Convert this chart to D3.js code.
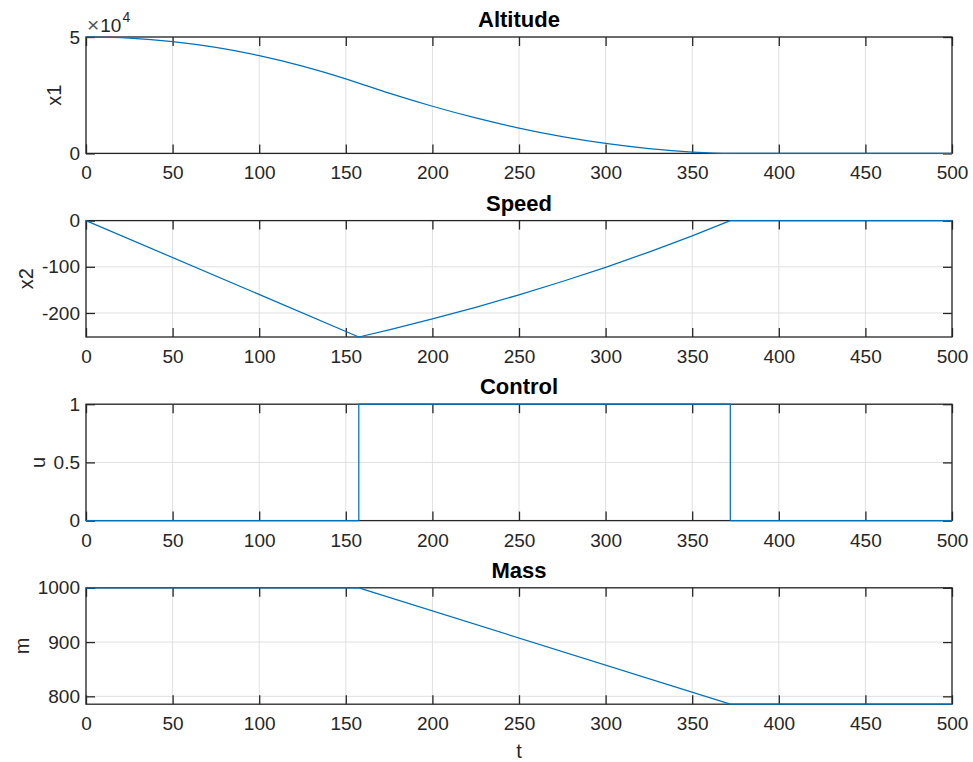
<!DOCTYPE html>
<html>
<head>
<meta charset="utf-8">
<script src="https://cdn.jsdelivr.net/npm/d3@7/dist/d3.min.js"></script>
<style>
  html, body { margin: 0; padding: 0; background: #fff; }
  svg { display: block; }
  text { font-family: "Liberation Sans", Arial, Helvetica, sans-serif; fill: #262626; }
</style>
</head>
<body>
<svg id="chart" width="973" height="762"></svg>
<script>
// ---------- data ----------
const xTicks = [0, 50, 100, 150, 200, 250, 300, 350, 400, 450, 500];

const tAltitude = [0, 25, 50, 75, 100, 125, 150, 157.5, 175, 200, 225, 250, 275, 300, 325, 350, 372, 400, 450, 500];
const altitude  = [50000, 49500, 48000, 45500, 42000, 37500, 32000, 30155, 25880, 20260, 15250, 10890, 7220, 4300, 2100, 600, 0, 0, 0, 0];
const altitudeTicks = [0, 50000];

const tSpeed = [0, 157.5, 175, 200, 225, 250, 275, 300, 325, 350, 372, 400, 450, 500];
const speed  = [0, -252, -236.5, -212.9, -187.7, -160.7, -131.9, -101.1, -68.1, -33, 0, 0, 0, 0];
const speedTicks = [-200, -100, 0];

const tControl = [0, 157.5, 157.5, 372, 372, 500];
const control  = [0, 0, 1, 1, 0, 0];
const controlTicks = [0, 0.5, 1];

const tMass = [0, 157.5, 372, 500];
const mass  = [1000, 1000, 785.5, 785.5];
const massTicks = [800, 900, 1000];

const panels = [
  { title: "Altitude", ylabel: "x1", t: tAltitude, v: altitude, domain: [0, 50000], ticks: altitudeTicks, fmt: d => String(d / 1e4), curve: d3.curveMonotoneX, exponent: "4" },
  { title: "Speed",    ylabel: "x2", t: tSpeed,    v: speed,    domain: [-252, 0],   ticks: speedTicks,    fmt: d => d === 0 ? "0" : "-" + Math.abs(d), curve: d3.curveLinear },
  { title: "Control",  ylabel: "u",  t: tControl,  v: control,  domain: [0, 1],      ticks: controlTicks,  fmt: d => String(d), curve: d3.curveLinear },
  { title: "Mass",     ylabel: "m",  t: tMass,     v: mass,     domain: [785.5, 1000], ticks: massTicks,   fmt: d => String(d), curve: d3.curveLinear, xlabel: "t" }
];

// ---------- layout ----------
const svg = d3.select("#chart");
const left = 86, right = 952;
const firstTop = 37, step = 183.6, plotH = 116.4;
const axisColor = "#262626", gridColor = "#e0e0e0", lineColor = "#0072BD";
const fontSize = 19, labelSize = 20, titleSize = 22, tickLen = 9;

const x = d3.scaleLinear().domain([0, 500]).range([left, right]);

panels.forEach((p, i) => {
  const top = firstTop + i * step;
  const bottom = top + plotH;
  const y = d3.scaleLinear().domain(p.domain).range([bottom, top]);
  const g = svg.append("g");

  // grid
  g.append("g").selectAll("line.gx").data(xTicks).join("line")
    .attr("x1", d => x(d)).attr("x2", d => x(d))
    .attr("y1", top).attr("y2", bottom)
    .attr("stroke", gridColor).attr("stroke-width", 1);
  g.append("g").selectAll("line.gy").data(p.ticks).join("line")
    .attr("x1", left).attr("x2", right)
    .attr("y1", d => y(d)).attr("y2", d => y(d))
    .attr("stroke", gridColor).attr("stroke-width", 1);

  // axes
  const styleAxis = sel => {
    sel.select(".domain").remove();
    sel.selectAll(".tick line").attr("stroke", axisColor).attr("stroke-width", 1.3);
    sel.selectAll(".tick text").attr("fill", axisColor).style("font-size", fontSize + "px")
      .style("font-family", '"Liberation Sans", Arial, Helvetica, sans-serif');
  };
  g.append("g").attr("transform", `translate(0,${bottom})`)
    .call(d3.axisBottom(x).tickValues(xTicks).tickSize(-tickLen).tickPadding(12.5).tickFormat(d3.format("d")))
    .call(styleAxis);
  g.append("g").attr("transform", `translate(0,${top})`)
    .call(d3.axisTop(x).tickValues(xTicks).tickSize(-tickLen).tickFormat(""))
    .call(styleAxis);
  const yAxisG = g.append("g").attr("transform", `translate(${left},0)`)
    .call(d3.axisLeft(y).tickValues(p.ticks).tickSize(-tickLen).tickPadding(6).tickFormat(p.fmt))
    .call(styleAxis);
  g.append("g").attr("transform", `translate(${right},0)`)
    .call(d3.axisRight(y).tickValues(p.ticks).tickSize(-tickLen).tickFormat(""))
    .call(styleAxis);

  // box
  g.append("rect").attr("x", left).attr("y", top)
    .attr("width", right - left).attr("height", plotH)
    .attr("fill", "none").attr("stroke", axisColor).attr("stroke-width", 1.3);

  // data line
  const pts = p.t.map((t, k) => [t, p.v[k]]);
  g.append("path").datum(pts)
    .attr("fill", "none").attr("stroke", lineColor).attr("stroke-width", 1.25)
    .attr("stroke-linejoin", "round")
    .attr("d", d3.line().x(d => x(d[0])).y(d => y(d[1])).curve(p.curve));

  // title
  svg.append("text").attr("x", (left + right) / 2).attr("y", top - 10)
    .attr("text-anchor", "middle").style("font-size", titleSize + "px").style("font-weight", "bold")
    .style("fill", "#000").text(p.title);

  // y label (placed left of the tick labels)
  let tickLeft = left;
  yAxisG.selectAll(".tick text").each(function () {
    const b = this.getBBox();
    const m = this.getCTM();
    const lx = b.x + (m ? m.e : 0);
    if (lx < tickLeft) tickLeft = lx;
  });
  const labX = tickLeft - 8.5;
  const labY = (top + bottom) / 2;
  svg.append("text").attr("transform", `translate(${labX},${labY}) rotate(-90)`)
    .attr("text-anchor", "middle").style("font-size", labelSize + "px").text(p.ylabel);

  // exponent
  if (p.exponent) {
    const ex = svg.append("text").attr("x", 87).attr("y", 31.5).style("font-size", fontSize + "px");
    ex.append("tspan").style("font-size", "21px").style("fill", "#555").text("\u00d7");
    ex.append("tspan").attr("dx", 1).text("10");
    ex.append("tspan").attr("dy", -10).attr("dx", 1).style("font-size", "14px").text(p.exponent);
  }

  // x label
  if (p.xlabel) {
    svg.append("text").attr("x", (left + right) / 2).attr("y", bottom + 54)
      .attr("text-anchor", "middle").style("font-size", labelSize + "px").text(p.xlabel);
  }
});
</script>
</body>
</html>
